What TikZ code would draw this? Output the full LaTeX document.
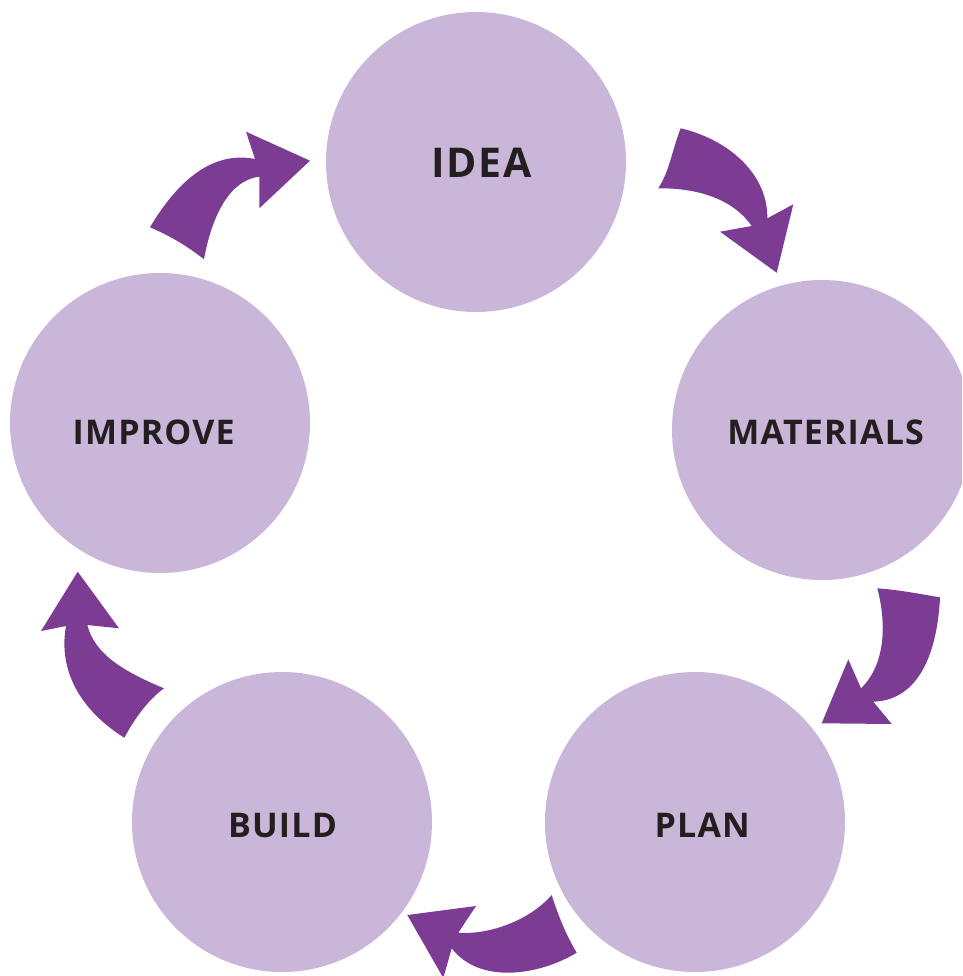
\documentclass[tikz,border=0pt]{standalone}
\usepackage{fontspec}
\setmainfont{Open Sans}[LetterSpace=3.5]
\definecolor{disc}{HTML}{CAB6D8}
\definecolor{arr}{HTML}{7D3C94}
\definecolor{ink}{HTML}{231F20}
\begin{document}
\begin{tikzpicture}[x=1pt,y=-1pt,
  stage/.style={circle,fill=disc,minimum size=300pt,inner sep=0pt},
  lbl/.style={font=\bfseries\fontsize{34}{38}\selectfont,text=ink,inner sep=0pt},
  biglbl/.style={lbl,font=\bfseries\fontsize{41}{45}\selectfont},
  curvearrow/.style={fill=arr}]
\useasboundingbox (0,0) rectangle (962,976);
\begin{scope}
\clip (0,0) rectangle (962,976);
\node[stage] (idea) at (476,162) {};
\node[stage] (mat) at (822,430) {};
\node[stage] (plan) at (695,822) {};
\node[stage] (build) at (282,822) {};
\node[stage] (imp) at (160,423) {};
\node[biglbl] (tidea) at (481.7,163.3) {IDEA};
\node[lbl] (tmat) at (825.7,432.2) {MATERIALS};
\node[lbl] (tplan) at (702.2,825) {PLAN};
\node[lbl] (tbuild) at (282.5,825.3) {BUILD};
\node[lbl] (timp) at (153.7,432.2) {IMPROVE};
% IDEA -> MATERIALS
\fill[curvearrow] (680.7,128.3) .. controls (730,140) and (768,175) .. (767.3,218.3)
  -- (793.3,204.3) -- (776.7,272.7) -- (720,231.7) -- (751.7,226)
  .. controls (730,195) and (690,188) .. (658.3,188.3)
  .. controls (670,170) and (672,150) .. (680.7,128.3) -- cycle;
% MATERIALS -> PLAN
\fill[curvearrow] (877.3,588.3) .. controls (900,590) and (920,594) .. (940,597.3)
  .. controls (938,640) and (925,700) .. (873.3,701.7)
  -- (891.7,724) -- (821.7,723.3) -- (848.3,659.3) -- (861,688.3)
  .. controls (885,665) and (887,625) .. (877.3,588.3) -- cycle;
% PLAN -> BUILD
\fill[curvearrow] (551.7,895) .. controls (558,915) and (566,935) .. (576.7,952.7)
  .. controls (540,975) and (480,985) .. (451.7,948.3)
  -- (443.3,978) -- (407.3,915) -- (476,906) -- (458.3,932.7)
  .. controls (490,935) and (530,920) .. (551.7,895) -- cycle;
% BUILD -> IMPROVE
\fill[curvearrow] (124.3,737.7) .. controls (135,718) and (148,700) .. (164,688.3)
  .. controls (125,672) and (95,655) .. (87.3,625)
  -- (119,628.3) -- (77.7,571.7) -- (41,631) -- (66,626)
  .. controls (58,670) and (80,710) .. (124.3,737.7) -- cycle;
% IMPROVE -> IDEA
\fill[curvearrow] (150,227.3) .. controls (175,185) and (210,150) .. (255,159)
  -- (246,131.7) -- (310,160.7) -- (259.3,208.3) -- (259.3,176.7)
  .. controls (230,180) and (212,215) .. (204,259.3)
  .. controls (186,245) and (168,235) .. (150,227.3) -- cycle;
\end{scope}
\end{tikzpicture}
\end{document}
